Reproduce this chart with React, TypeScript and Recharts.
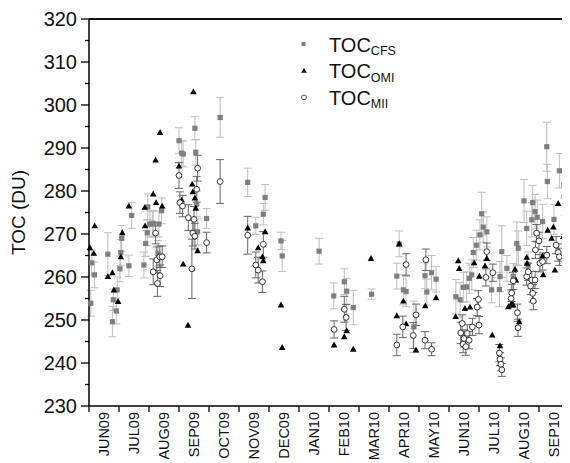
import React from 'react';
import { ScatterChart, Scatter, XAxis, YAxis, ErrorBar, Legend, CartesianGrid } from 'recharts';

const FONT = 'Arial, "Liberation Sans", sans-serif';

const months = ['JUN09', 'JUL09', 'AUG09', 'SEP09', 'OCT09', 'NOV09', 'DEC09', 'JAN10',
  'FEB10', 'MAR10', 'APR10', 'MAY10', 'JUN10', 'JUL10', 'AUG10', 'SEP10'];

const yTicks = [230, 235, 240, 245, 250, 255, 260, 265, 270, 275, 280, 285, 290, 295, 300, 305, 310, 315, 320];

// [month position (0 = start of JUN09), TOC (DU), error]
const cfsPoints: number[][] = [
  [0.06, 253.9, 3], [0.09, 263.3, 3], [0.18, 260.5, 3], [0.63, 265.3, 5], [0.78, 249.6, 3.5],
  [0.81, 254.7, 2.5], [0.91, 252.1, 3], [0.94, 257.0, 3], [1.03, 261.9, 3], [1.06, 265.7, 3],
  [1.09, 269.0, 3], [1.33, 262.6, 2.5], [1.42, 274.3, 3], [1.83, 262.8, 3], [1.89, 267.8, 3],
  [1.94, 270.3, 3], [1.96, 276.3, 3], [2.03, 272.3, 3], [2.11, 272.3, 3], [2.14, 272.5, 3],
  [2.30, 265.5, 3], [2.33, 272.3, 3], [2.42, 275.4, 3],
  [3.0, 291.7, 3], [3.09, 288.8, 3], [3.14, 288.6, 3], [3.53, 294.6, 2.7], [3.56, 289.0, 3],
  [3.59, 277.0, 3], [3.62, 270.5, 3], [3.92, 273.6, 2.3], [4.37, 297.1, 4.6],
  [5.29, 282.0, 3.3], [5.56, 271.9, 2], [5.81, 274.6, 2.5], [5.87, 278.5, 3], [6.4, 268.4, 2],
  [6.44, 264.9, 3.6], [7.67, 266.0, 3],
  [8.16, 255.6, 3], [8.51, 258.9, 3], [8.59, 256.7, 3], [8.81, 252.9, 4], [9.42, 256.0, 1.2],
  [10.26, 260.2, 3], [10.34, 267.7, 3], [10.48, 257.0, 3.5], [10.57, 256.6, 3.5], [10.83, 248.4, 6],
  [11.2, 260.3, 3], [11.26, 256.5, 3], [11.42, 261.0, 4], [11.57, 259.5, 3],
  [12.23, 255.4, 4], [12.37, 254.7, 4], [12.48, 257.6, 3.5], [12.59, 257.7, 3.5], [12.68, 259.7, 3.5],
  [12.76, 260.5, 3.5], [12.81, 265.7, 3.5], [12.92, 267.4, 3.5], [13.03, 269.8, 3.5], [13.09, 274.7, 5],
  [13.14, 271.6, 3.5], [13.26, 270.5, 3.5], [13.42, 257.0, 3], [13.68, 257.1, 4], [13.7, 260.1, 3.5],
  [13.76, 265.9, 6], [13.93, 262.0, 3],
  [14.14, 260.1, 3], [14.26, 267.8, 5], [14.31, 266.7, 4], [14.5, 277.7, 5], [14.59, 271.3, 4],
  [14.64, 262.8, 3], [14.76, 273.3, 4], [14.79, 277.3, 4], [14.87, 275.2, 4], [14.94, 273.9, 4],
  [15.12, 272.9, 4], [15.26, 290.3, 5.7], [15.28, 282.2, 4], [15.5, 273.4, 3.5], [15.68, 284.7, 4],
  [15.83, 281.4, 3],
];

// [month position, TOC (DU)]
const omiPoints: number[][] = [
  [0.03, 266.8], [0.16, 265.5], [0.19, 271.9], [0.63, 260.1], [0.78, 261.0], [0.83, 257.0],
  [0.97, 254.3], [1.06, 264.7], [1.11, 270.3], [1.33, 276.5], [1.87, 271.9], [1.86, 276.2],
  [2.14, 279.3], [2.22, 287.2], [2.24, 277.3], [2.37, 293.6], [2.44, 276.5],
  [3.0, 285.8], [3.09, 277.9], [3.14, 263.0], [3.3, 248.8], [3.44, 281.6], [3.46, 279.8],
  [3.48, 303.1], [3.53, 278.4], [3.56, 276.0], [3.62, 266.1],
  [5.29, 271.4], [5.64, 266.8], [5.78, 264.7], [5.81, 263.8], [5.87, 270.5], [6.4, 253.5], [6.44, 243.6],
  [8.17, 244.2], [8.51, 246.1], [8.59, 247.5], [8.81, 243.2], [9.4, 264.3],
  [10.26, 251.0], [10.34, 267.7], [10.48, 254.4], [10.57, 249.1], [10.9, 243.0],
  [11.21, 253.3], [11.57, 255.2],
  [12.22, 250.8], [12.31, 263.8], [12.34, 262.0], [12.53, 252.7], [12.7, 253.0], [12.84, 263.3],
  [13.01, 260.2], [13.2, 262.6], [13.26, 264.3], [13.44, 246.5], [13.7, 244.0], [13.98, 253.1],
  [14.09, 253.9], [14.14, 253.5], [14.2, 261.8], [14.23, 259.3], [14.34, 249.6], [14.59, 264.6],
  [14.6, 263.2], [15.12, 264.9], [15.14, 260.5], [15.29, 270.9], [15.42, 269.0], [15.48, 271.6],
  [15.53, 261.6], [15.64, 277.1], [15.81, 269.4],
];

// [month position, TOC (DU), error]
const miiPoints: number[][] = [
  [2.14, 261.2, 3], [2.22, 270.2, 2.5], [2.26, 264.0, 3], [2.28, 258.5, 3], [2.36, 264.7, 2.5],
  [2.37, 260.3, 2.5], [2.44, 264.7, 2.5],
  [3.0, 283.6, 3], [3.03, 277.3, 2.5], [3.12, 276.5, 2.5], [3.31, 273.8, 3], [3.43, 261.9, 6.9],
  [3.46, 270.2, 3], [3.5, 273.4, 3], [3.53, 269.5, 3], [3.59, 280.4, 3], [3.62, 285.3, 3],
  [3.92, 268.0, 2.4], [4.37, 282.2, 5.1],
  [5.29, 269.7, 4.4], [5.56, 262.8, 3], [5.64, 261.6, 3], [5.78, 258.9, 2.5], [5.81, 267.6, 3],
  [8.17, 247.8, 2], [8.51, 252.5, 3], [8.57, 250.6, 3],
  [10.26, 244.2, 2.5], [10.46, 248.4, 2.5], [10.57, 262.9, 2.5], [10.81, 246.4, 3], [10.9, 251.2, 2.5],
  [11.2, 245.3, 2], [11.23, 264.0, 2.5], [11.42, 243.2, 1.5],
  [12.39, 247.0, 2.5], [12.44, 249.2, 2], [12.47, 244.4, 2], [12.5, 245.7, 2], [12.56, 243.8, 2],
  [12.61, 246.9, 2], [12.67, 245.3, 2], [12.78, 248.4, 2], [12.94, 253.0, 2], [12.98, 254.8, 2],
  [13.0, 248.8, 2], [13.23, 259.9, 2], [13.26, 265.9, 2], [13.46, 261.0, 2],
  [13.68, 242.3, 2], [13.7, 240.9, 1.5], [13.73, 239.7, 1.5], [13.76, 238.4, 1.5],
  [14.07, 255.0, 2], [14.09, 256.3, 2], [14.14, 259.1, 2], [14.28, 251.7, 2], [14.3, 248.2, 2],
  [14.59, 260.1, 2], [14.64, 261.2, 2], [14.72, 257.9, 2], [14.76, 259.3, 2], [14.79, 256.2, 2],
  [14.81, 254.4, 2], [14.87, 259.3, 2], [14.88, 266.3, 2], [14.92, 270.2, 2], [15.0, 268.4, 2],
  [15.03, 263.2, 2], [15.12, 263.6, 2], [15.26, 265.1, 2], [15.57, 267.4, 2], [15.64, 265.7, 2],
  [15.68, 264.7, 2], [15.87, 274.4, 4.5],
];

const cfsData = cfsPoints.map(([x, y, e]) => ({ x, y, e }));
const omiData = omiPoints.map(([x, y]) => ({ x, y }));
const miiData = miiPoints.map(([x, y, e]) => ({ x, y, e }));

const xTicks: number[] = months.flatMap((_, i) => [i, i + 0.5]).concat([months.length]);
const xMax = months.length;
const yMin = yTicks[0];
const yMax = yTicks[yTicks.length - 1];
const MARGIN = { top: 11, right: 1, bottom: 0, left: 0 };

// plot frame (top edge and right edge) drawn through the chart scales
const frameData = [
  { x: 0, y: yMax },
  { x: xMax, y: yMax },
  { x: xMax, y: yMin },
];

const SquareShape = (props: any) => {
  const { cx, cy } = props;
  return <rect x={cx - 2.6} y={cy - 2.6} width={5.2} height={5.2} fill="#7f7f7f" />;
};
const TriangleShape = (props: any) => {
  const { cx, cy } = props;
  return <path d={`M${cx},${cy - 3.4}L${cx + 3.3},${cy + 2.5}L${cx - 3.3},${cy + 2.5}Z`} fill="#000" />;
};
const CircleShape = (props: any) => {
  const { cx, cy } = props;
  return <circle cx={cx} cy={cy} r={2.9} fill="#fff" stroke="#222" strokeWidth={0.9} />;
};
const NoShape = () => <g />;

const XTick = (props: any) => {
  const { x, y, payload } = props;
  const v = payload.value;
  if (Number.isInteger(v)) {
    return <line x1={x} y1={y} x2={x} y2={y + 6} stroke="#000" strokeWidth={1.3} />;
  }
  return (
    <text transform={`translate(${x},${y + 6}) rotate(-90)`} textAnchor="end" dominantBaseline="central"
      fontSize={14.5} fontFamily={FONT} fill="#111">
      {months[Math.floor(v)]}
    </text>
  );
};

const YTick = (props: any) => {
  const { x, y, payload } = props;
  const major = payload.value % 10 === 0;
  return (
    <g>
      <line x1={x - (major ? 8 : 4)} y1={y} x2={x} y2={y} stroke="#000" strokeWidth={1.3} />
      {major && (
        <text x={x - 12} y={y} textAnchor="end" dominantBaseline="central" fontSize={20} fontFamily={FONT} fill="#111">
          {payload.value}
        </text>
      )}
    </g>
  );
};

const YLabel = (props: any) => {
  const vb = props.viewBox;
  return (
    <text transform={`translate(${vb.x + 10},${vb.y + vb.height / 2}) rotate(-90)`} textAnchor="middle"
      dominantBaseline="central" fontSize={19} fontFamily={FONT} fill="#111">
      TOC (DU)
    </text>
  );
};

const legendRows = [
  { name: 'CFS', kind: 'square' },
  { name: 'OMI', kind: 'triangle' },
  { name: 'MII', kind: 'circle' },
];

const LegendContent = () => (
  <svg width={130} height={82} style={{ display: 'block' }}>
    {legendRows.map((r, i) => {
      const cy = 12 + i * 26.7;
      return (
        <g key={r.name}>
          {r.kind === 'square' && <rect x={5.5} y={cy - 2} width={4} height={4} fill="#7f7f7f" />}
          {r.kind === 'triangle' && <path d={`M8,${cy - 2.8}L10.8,${cy + 2}L5.2,${cy + 2}Z`} fill="#000" />}
          {r.kind === 'circle' && <circle cx={8} cy={cy} r={2.4} fill="#fff" stroke="#222" strokeWidth={0.8} />}
          <text x={33} y={cy + 7.5} fontSize={20} fontFamily={FONT} fill="#111">
            TOC<tspan dy={3.5} fontSize={12.5}>{r.name}</tspan>
          </text>
        </g>
      );
    })}
  </svg>
);

export default function App() {
  const axisStyle = { stroke: '#000', strokeWidth: 1.5 };
  return (
    <div style={{ fontFamily: FONT }}>
      <ScatterChart width={562} height={455} margin={MARGIN}>
        <CartesianGrid horizontalValues={[yMax]} verticalValues={[xMax]} stroke="#000" strokeWidth={1.5} />
        <XAxis dataKey="x" type="number" domain={[0, xMax]} ticks={xTicks} interval={0} tick={<XTick />}
          tickLine={false} tickSize={0} tickMargin={0} height={57} axisLine={axisStyle} />
        <YAxis dataKey="y" type="number" domain={[yMin, yMax]} ticks={yTicks} interval={0} tick={<YTick />}
          tickLine={false} tickSize={0} tickMargin={0} width={81} axisLine={axisStyle}
          label={{ content: <YLabel /> }} />
        <Legend layout="vertical" align="center" verticalAlign="middle" content={<LegendContent />}
          wrapperStyle={{ left: 288, top: 24, width: 130, height: 82 }} />
        <Scatter name="frame" data={frameData} line={{ stroke: '#000', strokeWidth: 1.6 }}
          shape={<NoShape />} legendType="none" isAnimationActive={false} />
        <Scatter name="CFS" data={cfsData} shape={<SquareShape />} isAnimationActive={false}>
          <ErrorBar dataKey="e" direction="y" width={4} stroke="#bdbdbd" strokeWidth={1} />
        </Scatter>
        <Scatter name="OMI" data={omiData} shape={<TriangleShape />} isAnimationActive={false} />
        <Scatter name="MII" data={miiData} shape={<CircleShape />} isAnimationActive={false}>
          <ErrorBar dataKey="e" direction="y" width={4} stroke="#666" strokeWidth={1} />
        </Scatter>
      </ScatterChart>
    </div>
  );
}
